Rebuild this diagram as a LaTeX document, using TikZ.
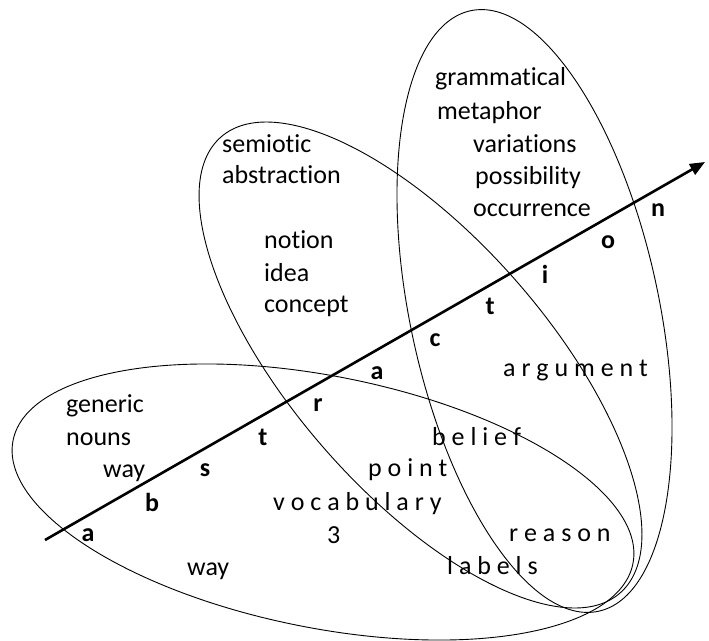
\documentclass[tikz,border=0pt]{standalone}
\usepackage{fontspec}
\setmainfont{Carlito}[Ligatures=NoCommon]
\usetikzlibrary{arrows.meta}
\begin{document}
\begin{tikzpicture}[x=1pt,y=-1pt,
  lbl/.style={anchor=base west,inner sep=0pt,font=\fontsize{26}{31}\selectfont},
  ltr/.style={anchor=base,inner sep=0pt,font=\fontsize{26}{31}\selectfont\bfseries},
  oval/.style={draw=black,line width=0.9pt},
  axis/.style={draw=black,line width=2.6pt,-{Triangle[length=15pt,width=12pt]}}]
\useasboundingbox (0,0) rectangle (709,640);
% ellipses
\draw[oval,rotate around={-11.25:(323,502)}] (323,502) ellipse (316 and 125.9);
\draw[oval,rotate around={-48.8:(420.5,365)}] (420.5,365) ellipse (303 and 127.4);
\draw[oval,rotate around={-78:(534.5,311)}] (534.5,311) ellipse (307 and 124.5);
% arrow
\coordinate (s) at (45,540);
\coordinate (e) at (705,162);
\draw[axis] (s) -- (e);
% letters along the arrow
\node[ltr] (l1) at (88,541) {a};
\node[ltr] (l2) at (152,511) {b};
\node[ltr] (l3) at (205,476) {s};
\node[ltr] (l4) at (263,445) {t};
\node[ltr] (l5) at (318,411) {r};
\node[ltr] (l6) at (377,379) {a};
\node[ltr] (l7) at (435,346) {c};
\node[ltr] (l8) at (490,314) {t};
\node[ltr] (l9) at (545,283) {i};
\node[ltr] (l10) at (608,248) {o};
\node[ltr] (l11) at (658,216) {n};
% bottom ellipse texts
\node[lbl] (t1) at (66,412) {generic};
\node[lbl] (t2) at (66,445) {nouns};
\node[lbl] (t3) at (103,477) {way};
\node[lbl] (t4) at (187,575) {way};
\node[lbl] (t5) at (273,510) {v o c a b u l a r y};
\node[lbl] (t6) at (327,543) {3};
\node[lbl] (t7) at (432,445) {b e l i e f};
\node[lbl] (t8) at (368,476) {p o i n t};
\node[lbl] (t9) at (509,541) {r e a s o n};
\node[lbl] (t10) at (447,574) {l a b e l s};
% tall ellipse texts
\node[lbl] (t11) at (435,85) {grammatical};
\node[lbl] (t12) at (437,119) {metaphor};
\node[lbl] (t13) at (473,152) {variations};
\node[lbl] (t14) at (475,184) {possibility};
\node[lbl] (t15) at (473,216) {occurrence};
\node[lbl] (t16) at (503,376) {a r g u m e n t};
% middle ellipse texts
\node[lbl] (t17) at (222,152) {semiotic};
\node[lbl] (t18) at (222,183) {abstraction};
\node[lbl] (t19) at (264,248) {notion};
\node[lbl] (t20) at (264,281) {idea};
\node[lbl] (t21) at (264,312) {concept};
\end{tikzpicture}
\end{document}
